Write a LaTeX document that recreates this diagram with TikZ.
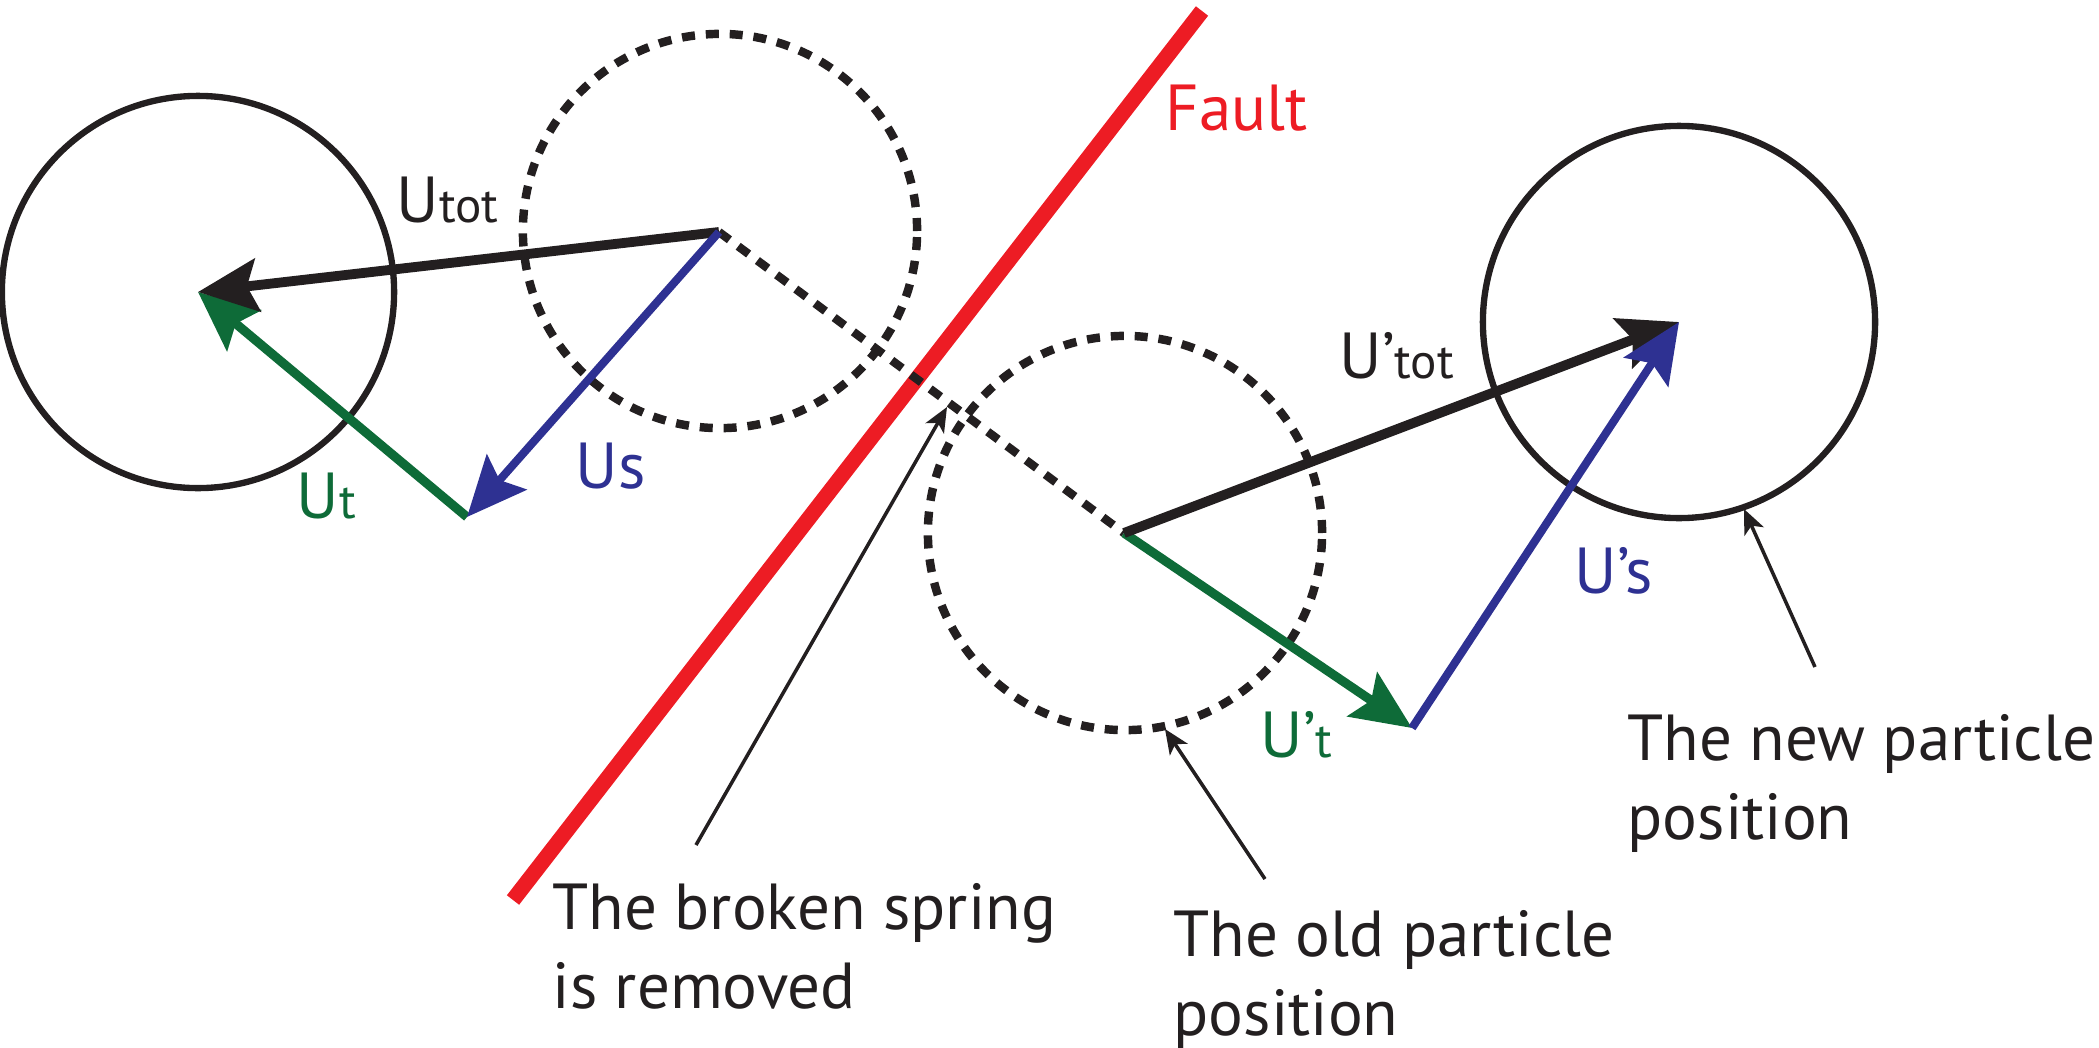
\documentclass[tikz,border=0pt]{standalone}
\usepackage{fontspec}
\setmainfont{PT Sans}
\usetikzlibrary{arrows.meta}
\definecolor{ink}{HTML}{231F20}
\definecolor{fred}{HTML}{ED1C24}
\definecolor{fgreen}{HTML}{0E6B38}
\definecolor{fblue}{HTML}{2E3192}
\newcommand\subtxt{\fontsize{14pt}{16pt}\selectfont}
\begin{document}
\begin{tikzpicture}[x=0.01cm,y=-0.01cm,
  solidc/.style={draw=ink,circle,line width=1.8pt,minimum size=3.92cm,inner sep=0pt},
  dashc/.style={draw=ink,circle,line width=2.4pt,dash pattern=on 3.7pt off 3.1pt,minimum size=3.94cm,inner sep=0pt},
  vec/.style={line width=2.8pt,-{Stealth[length=17pt,width=15pt,inset=3pt]}},
  note/.style={draw=ink,line width=1pt,-{Stealth[length=7pt,width=6pt,inset=1.8pt]}},
  big/.style={font=\fontsize{18.5pt}{22.4pt}\selectfont,inner sep=0pt,anchor=base west},
  lab/.style={font=\fontsize{18.5pt}{22.4pt}\selectfont,inner sep=0pt,anchor=base west,align=left,text=ink}
]
\useasboundingbox (0,0) rectangle (2099,1048);
% particles
\node[solidc] (newL) at (198,292) {};
\node[dashc] (oldL) at (720,231) {};
\node[dashc] (oldR) at (1125,533) {};
\node[solidc] (newR) at (1679,322) {};
\coordinate (A) at (719,232);
\coordinate (B) at (198,292);
\coordinate (C) at (467,517);
\coordinate (D) at (1124,533);
\coordinate (E) at (1679,322);
\coordinate (F) at (1412,728);
% fault
\coordinate (f1) at (513,900);
\coordinate (f2) at (1202,11);
\draw[fred,line width=4.4pt] (f1) -- (f2);
% broken spring
\draw[ink,line width=2.4pt,dash pattern=on 3.7pt off 3.1pt] (A) -- (D);
% left vectors
\draw[vec,fgreen,line width=2.6pt] (C) -- (B);
\draw[vec,ink] (A) -- (B);
\draw[vec,fblue,line width=2.3pt] (A) -- (C);
% right vectors
\draw[vec,fgreen,line width=2.6pt] (D) -- (F);
\draw[vec,ink] (D) -- (E);
\draw[vec,fblue,line width=2.3pt] (F) -- (E);
% labels
\node[big,text=ink] (lUtot) at (396,222) {U{\subtxt tot}};
\node[big,text=fgreen] (lUt) at (296,518) {U{\subtxt t}};
\node[big,text=fblue] (lUs) at (575,488) {Us};
\node[big,text=ink] (lUtot2) at (1339,378) {U’{\subtxt tot}};
\node[big,text=fgreen] (lUt2) at (1260,757) {U’{\subtxt t}};
\node[big,text=fblue] (lUs2) at (1574,593) {U’s};
\node[big,text=fred] (lfault) at (1165,130) {Fault};
% notes (anchor = baseline of the last line)
\node[lab] (tBroken) at (552,1008) {The broken spring\\is removed};
\node[lab] (tOld) at (1173,1035) {The old particle\\position};
\node[lab] (tNew) at (1627,839) {The new particle\\position};
\coordinate (nb1) at (696,845);
\coordinate (nb2) at (947,407);
\coordinate (no1) at (1265,879);
\coordinate (no2) at (1165,729);
\coordinate (nn1) at (1815,667);
\coordinate (nn2) at (1744,509);
\draw[note] (nb1) -- (nb2);
\draw[note] (no1) -- (no2);
\draw[note] (nn1) -- (nn2);
\end{tikzpicture}
\end{document}
